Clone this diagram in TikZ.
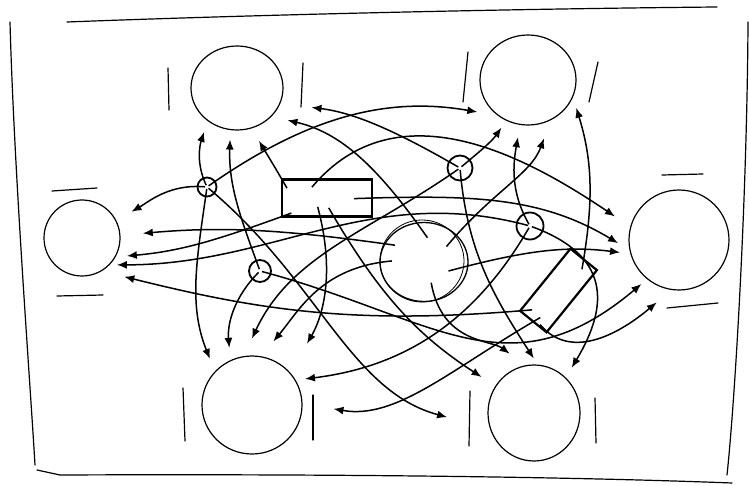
\documentclass[tikz,border=0pt]{standalone}
\usetikzlibrary{arrows.meta,shapes.geometric}

\begin{document}
\begin{tikzpicture}[x=1pt, y=1pt, >={Latex[length=10pt,width=8pt]},
    seat/.style={draw, ellipse, line width=1.2pt, inner sep=0pt, outer sep=0pt},
    person/.style={draw, circle, line width=1.8pt, inner sep=0pt, outer sep=0pt},
    hub/.style={draw, ellipse, line width=1.3pt, inner sep=0pt, outer sep=0pt},
    crate/.style={draw, rectangle, line width=2.2pt, inner sep=0pt, outer sep=0pt},
    link/.style={->, line width=1.5pt, shorten <=2pt},
    bar/.style={line width=1.2pt, line cap=round}]
    \useasboundingbox (0,0) rectangle (749,-486);

    \draw[bar] (10,-22) .. controls (14,-170) and (30,-380) .. (35,-465);
    \draw[bar] (67,-22) .. controls (250,-15) and (500,-9) .. (717,-7);
    \draw[bar] (37,-470) -- (60,-475) .. controls (300,-474) and (550,-476) .. (732,-483);
    \draw[bar] (748,-22) .. controls (747,-200) and (735,-400) .. (727,-475);

    \node[seat, minimum width=92pt, minimum height=84pt] (tl) at (237,-88) {};
    \node[seat, minimum width=96pt, minimum height=90pt] (tr) at (528,-80) {};
    \node[seat, minimum width=76pt, minimum height=76pt] (lf) at (82,-238) {};
    \node[seat, minimum width=100pt, minimum height=100pt] (rt) at (679,-240) {};
    \node[seat, minimum width=100pt, minimum height=98pt] (bl) at (252,-405) {};
    \node[seat, minimum width=92pt, minimum height=96pt] (br) at (534,-413) {};

    \draw[bar] (168,-68) -- (169,-110);
    \draw[bar] (303,-63) -- (301,-107);
    \draw[bar] (468,-52) -- (463,-102);
    \draw[bar] (598,-62) -- (589,-102);
    \draw[bar] (52,-191) -- (97,-188);
    \draw[bar] (57,-296) -- (103,-295);
    \draw[bar] (662,-175) -- (703,-174);
    \draw[bar] (667,-308) -- (718,-303);
    \draw[bar] (183,-388) -- (185,-441);
    \draw[bar] (313,-395) -- (313,-440);
    \draw[bar] (470,-391) -- (469,-446);
    \draw[bar] (595,-398) -- (596,-443);

    \node[person, minimum size=19pt] (A) at (207,-187) {};
    \node[person, minimum size=25pt] (B) at (460,-168) {};
    \node[person, minimum size=22pt] (C) at (260,-271) {};
    \node[person, minimum size=27pt] (D) at (530,-226) {};
    \node[hub, minimum width=88pt, minimum height=79pt] (cc) at (424,-262) {};
    \draw[line width=.8pt] (cc.center) ++(-2,1) ellipse [x radius=42, y radius=41];
    \node[crate, minimum width=90pt, minimum height=37pt] (r1) at (327,-198) {};
    \node[crate, minimum width=80pt, minimum height=34pt, rotate=51] (r2) at (558.5,-290.5) {};

    \draw[link, shorten >=12pt] (A.center) to[out=115, in=252] (tl.228);
    \draw[link, shorten >=22pt] (A.center) to[out=35, in=170] (tr.231);
    \draw[link, shorten >=18pt] (A.center) to[out=175, in=30] (lf.27);
    \draw[link, shorten >=14pt] (A.center) to[out=262, in=112] (bl.138);
    \draw[link, shorten >=45pt] (A.center) to[out=-40, in=165] (br.200);

    \draw[link, shorten >=32pt] (B.center) to[out=150, in=353] (tl.340);
    \draw[link, shorten >=9pt] (B.center) to[out=40, in=235] (tr.242);
    \draw[link, shorten >=20pt] (B.center) to[out=215, in=65] (bl.100);
    \draw[link, shorten >=8pt] (B.center) to[out=275, in=123] (br.85);

    \draw[link, shorten >=10pt] (C.center) to[out=110, in=268] (tl.261);
    \draw[link, shorten >=13pt] (C.center) to[out=225, in=95] (bl.116);
    \draw[link, shorten >=8pt, looseness=1.2] (C.center) to[out=-15, in=220] (rt.231);

    \draw[link, shorten >=13pt] (D.center) to[out=120, in=260] (tr.260);
    \draw[link, shorten >=8pt] (D.center) to[out=165, in=0] (lf.315);
    \draw[link, shorten >=10pt] (D.center) to[out=240, in=7] (bl.30);
    \draw[link, shorten >=12pt, looseness=1.4] (D.center) to[out=-20, in=59] (br.48);

    \draw[link, shorten <=-10pt, shorten >=15pt] (r1.north west) to[out=120, in=300] (tl.290);
    \draw[link, shorten <=-10pt, shorten >=12pt] (r1.south west) to[out=200, in=5] (lf.330);
    \draw[link, shorten <=-10pt, shorten >=19pt] (r1.115) to[out=50, in=146] (rt.165);
    \draw[link, shorten <=-18pt, shorten >=14pt] (r1.east) to[out=2, in=149] (rt.192);
    \draw[link, shorten <=-10pt, shorten >=34pt] (r1.-110) to[out=-75, in=60] (bl.40);
    \draw[link, shorten <=-10pt, shorten >=17pt] (r1.-70) to[out=-60, in=147] (br.145);

    \draw[link, shorten <=-18pt, shorten >=17pt] (cc.100) to[out=125, in=347] (tl.320);
    \draw[link, shorten <=-15pt, shorten >=20pt] (cc.40) to[out=50, in=250] (tr.300);
    \draw[link, shorten <=-10pt, shorten >=23pt] (cc.155) to[out=172, in=5] (lf.4);
    \draw[link, shorten <=-20pt, shorten >=11pt] (cc.355) to[out=15, in=173] (rt.196);
    \draw[link, shorten <=-12pt, shorten >=20pt] (cc.180) to[out=185, in=50] (bl.80);
    \draw[link, shorten <=-18pt, shorten >=20pt] (cc.-75) to[out=-80, in=143] (br.100);

    \draw[link, shorten <=-10pt, shorten >=12pt] (r2.east) to[out=80, in=287] (tr.340);
    \draw[link, shorten <=-12pt, shorten >=24pt] (r2.north west) to[out=185, in=346] (lf.300);
    \draw[link, shorten <=-10pt, shorten >=20pt, looseness=.9] (r2.south west) to[out=-50, in=220] (rt.262);
    \draw[link, shorten <=-8pt, shorten >=32pt] (r2.west) to[out=210, in=350] (bl.2);
\end{tikzpicture}
\end{document}
